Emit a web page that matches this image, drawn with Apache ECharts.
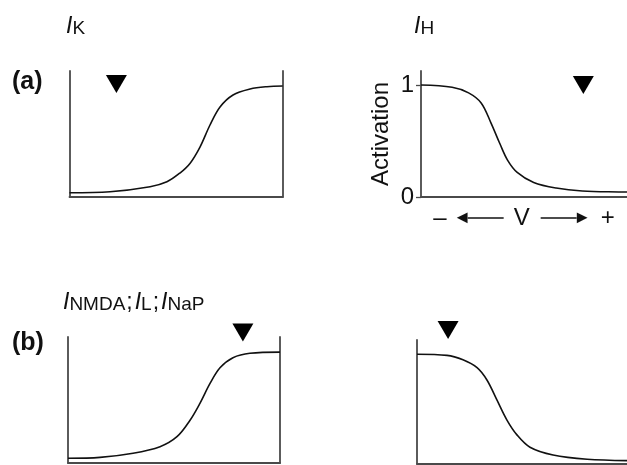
<!DOCTYPE html>
<html>
<head>
<meta charset="utf-8">
<script src="https://cdn.jsdelivr.net/npm/echarts@6/dist/echarts.min.js"></script>
<style>
  html, body { margin: 0; padding: 0; background: #fff; }
  #chart { width: 627px; height: 465px; }
</style>
</head>
<body>
<div id="chart"></div>
<script>
// Steady-state activation curves. Voltage is in relative units across each
// panel (0 = hyperpolarised end, 100 = depolarised end); activation is 0..1.
const kVolt   = [0, 19, 37.8, 45.7, 51.8, 56.5, 61.2, 65.9, 70.6, 76.7, 84.7, 92.6, 100];
const kAct    = [0.038, 0.047, 0.092, 0.136, 0.214, 0.30, 0.446, 0.643, 0.804, 0.911, 0.964, 0.985, 0.991];

const hVolt   = [0, 15.1, 23.1, 29.2, 34, 38.2, 42, 46.7, 54.7, 65.6, 78.3, 97.2, 100];
const hAct    = [1.0, 0.98, 0.93, 0.84, 0.66, 0.48, 0.33, 0.22, 0.13, 0.08, 0.054, 0.045, 0.044];

const depVolt = [0, 15.1, 30.7, 43.4, 51.4, 57.5, 62.3, 67, 71.7, 77.8, 85.8, 100];
const depAct  = [0.042, 0.05, 0.087, 0.146, 0.235, 0.38, 0.535, 0.71, 0.85, 0.94, 0.98, 0.99];

const hypVolt = [0, 14.3, 21.9, 28.6, 33.3, 38.1, 42.9, 47.6, 53.8, 64.8, 81, 100];
const hypAct  = [0.98, 0.97, 0.93, 0.86, 0.75, 0.57, 0.39, 0.26, 0.15, 0.08, 0.042, 0.03];

// Resting-potential markers (one per panel)
const restVolt = [22, 78.8, 82.5, 14.8];
const restLevel = [1.01, 1.0, 1.165, 1.196];

// Y-axis tick labels on the annotated panel
const actTicks = [0, 1];

const FONT = '"Liberation Sans", Arial, Helvetica, sans-serif';
const AXIS_COLOR = '#4a4a4a';
const zip = (xs, ys) => xs.map((x, i) => [x, ys[i]]);

const titleRich = {
  i: { fontFamily: FONT, fontSize: 23, fontStyle: 'italic', fontWeight: 'normal', color: '#111', lineHeight: 25, verticalAlign: 'bottom' },
  s: { fontFamily: FONT, fontSize: 19, fontWeight: 'normal', color: '#111', lineHeight: 15, verticalAlign: 'bottom' },
  p: { fontFamily: FONT, fontSize: 23, fontWeight: 'normal', color: '#111', lineHeight: 25, verticalAlign: 'bottom', padding: [0, 2, 0, 1] }
};

const grids = [
  { left: 69.5, top: 71, width: 213.2, height: 126 },
  { left: 421, top: 71, width: 212, height: 126 },
  { left: 68, top: 337, width: 212, height: 126 },
  { left: 417, top: 340, width: 210, height: 124 }
];
const yMax = [1.125, 1.125, 1.125, 1.107];

const plainLine = { show: true, onZero: false, lineStyle: { color: AXIS_COLOR, width: 1.8 } };

const xAxes = grids.map((g, i) => {
  const ax = {
    type: 'value', gridIndex: i, min: 0, max: 100,
    axisLine: plainLine, axisTick: { show: false }, axisLabel: { show: false }, splitLine: { show: false }
  };
  if (i === 1) {
    ax.name = '{m|–}{g1| }{al|◄}{sh| }{g2| }{v|V}{g3| }{sh| }{ar|►}{g4| }{m|+}';
    ax.nameLocation = 'middle';
    ax.nameGap = 9;
    ax.nameTextStyle = {
      rich: {
        m:  { fontFamily: FONT, fontSize: 24, color: '#111', verticalAlign: 'middle', lineHeight: 24 },
        v:  { fontFamily: FONT, fontSize: 24, color: '#111', verticalAlign: 'middle', lineHeight: 24 },
        g1: { width: 10, fontSize: 10 },
        g2: { width: 10, fontSize: 10 },
        g3: { width: 11, fontSize: 10 },
        g4: { width: 13, fontSize: 10 },
        al: { fontFamily: FONT, fontSize: 18, width: 11, color: '#111', verticalAlign: 'middle', align: 'left' },
        ar: { fontFamily: FONT, fontSize: 18, width: 11, color: '#111', verticalAlign: 'middle', align: 'right' },
        sh: { width: 36, height: 1.3, backgroundColor: '#111', fontSize: 10, verticalAlign: 'middle' }
      }
    };
  }
  return ax;
});

const yAxes = [];
grids.forEach((g, i) => {
  const ax = {
    type: 'value', gridIndex: i, min: 0, max: yMax[i], position: 'left',
    axisLine: plainLine, axisTick: { show: false }, axisLabel: { show: false }, splitLine: { show: false }
  };
  if (i === 1) {
    ax.axisTick = { show: true, length: 5, customValues: actTicks, lineStyle: { color: AXIS_COLOR, width: 1.3 } };
    ax.axisLabel = { show: true, customValues: actTicks, margin: 7, fontFamily: FONT, fontSize: 24, color: '#111' };
    ax.name = 'Activation';
    ax.nameLocation = 'middle';
    ax.nameGap = 28;
    ax.nameTextStyle = { fontFamily: FONT, fontSize: 24, color: '#111' };
  }
  yAxes.push(ax);
  if (i === 0 || i === 2) {
    yAxes.push({
      type: 'value', gridIndex: i, min: 0, max: yMax[i], position: 'right',
      axisLine: plainLine, axisTick: { show: false }, axisLabel: { show: false }, splitLine: { show: false }
    });
  }
});
// index of the left y axis belonging to each grid
const yIdx = [0, 2, 3, 5];

const curves = [zip(kVolt, kAct), zip(hVolt, hAct), zip(depVolt, depAct), zip(hypVolt, hypAct)];

const series = [];
curves.forEach((data, i) => {
  series.push({
    type: 'line', xAxisIndex: i, yAxisIndex: yIdx[i], data,
    smooth: 0.35, showSymbol: false, silent: true,
    lineStyle: { color: '#111', width: 1.6 }
  });
  series.push({
    type: 'scatter', xAxisIndex: i, yAxisIndex: yIdx[i], clip: false, silent: true,
    data: [[restVolt[i], restLevel[i]]],
    symbol: 'triangle', symbolRotate: 180, symbolSize: [21, 18],
    itemStyle: { color: '#000', opacity: 1 }
  });
});

const chart = echarts.init(document.getElementById('chart'), null, { renderer: 'canvas' });
chart.setOption({
  backgroundColor: '#fff',
  animation: false,
  title: [
    { text: '{i|I}{s|K}', left: 66, top: 13, padding: 0, textStyle: { rich: titleRich } },
    { text: '{i|I}{s|H}', left: 414, top: 13, padding: 0, textStyle: { rich: titleRich } },
    { text: '{i|I}{s|NMDA}{p|;}{i|I}{s|L}{p|;}{i|I}{s|NaP}', left: 63, top: 289, padding: 0, textStyle: { rich: titleRich } },
    { text: '(a)', left: 12, top: 70, padding: 0, textStyle: { fontFamily: FONT, fontSize: 25, fontWeight: 'bold', color: '#111' } },
    { text: '(b)', left: 12, top: 331, padding: 0, textStyle: { fontFamily: FONT, fontSize: 25, fontWeight: 'bold', color: '#111' } }
  ],
  grid: grids,
  xAxis: xAxes,
  yAxis: yAxes,
  series
});
</script>
</body>
</html>
